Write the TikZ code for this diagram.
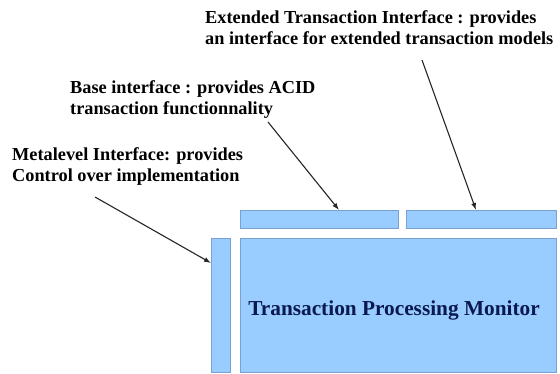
\documentclass[tikz,border=0pt]{standalone}
\usepackage{fontspec}
\setmainfont{Liberation Serif}
\usetikzlibrary{arrows.meta}
\definecolor{boxfill}{RGB}{153,204,255}
\definecolor{boxline}{RGB}{120,160,210}
\definecolor{navy}{RGB}{10,25,80}
\begin{document}
\begin{tikzpicture}[x=1pt,y=-1pt,
  blue box/.style={draw=boxline,fill=boxfill,line width=0.6pt,inner sep=0pt,anchor=north west},
  label text/.style={font=\bfseries\fontsize{18.3}{21}\selectfont,align=left,anchor=base west,inner sep=0pt},
  pointer/.style={-{Latex[length=7pt,width=5pt]},line width=1.1pt,draw=black!85}]
\useasboundingbox[fill=white] (0,0) rectangle (560,374);
\node[blue box,minimum width=158pt,minimum height=18pt] (basebox) at (240,210) {};
\node[blue box,minimum width=150pt,minimum height=18pt] (extbox) at (406,210) {};
\node[blue box,minimum width=316pt,minimum height=134pt] (tpm) at (240,238) {};
\node[blue box,minimum width=19pt,minimum height=134pt] (metabar) at (211,238) {};
\node[font=\bfseries\fontsize{21.3}{24}\selectfont,text=navy,anchor=base,inner sep=0pt] (tpmtext) at (394,316) {Transaction Processing Monitor};
\node[label text] (exttext) at (205,45) {Extended Transaction Interface : provides\\an interface for extended transaction models};
\node[label text] (basetext) at (70,115) {Base interface : provides ACID\\transaction functionnality};
\node[label text] (metatext) at (12,182) {Metalevel Interface: provides\\Control over implementation};
\coordinate (extstart) at (422,60);
\coordinate (basestart) at (268,122);
\coordinate (metastart) at (95,197);
\draw[pointer] (extstart) -- ([xshift=70pt]extbox.north west);
\draw[pointer] (basestart) -- ([xshift=99pt]basebox.north west);
\draw[pointer] (metastart) -- ([yshift=-25pt]metabar.north west);
\end{tikzpicture}
\end{document}
